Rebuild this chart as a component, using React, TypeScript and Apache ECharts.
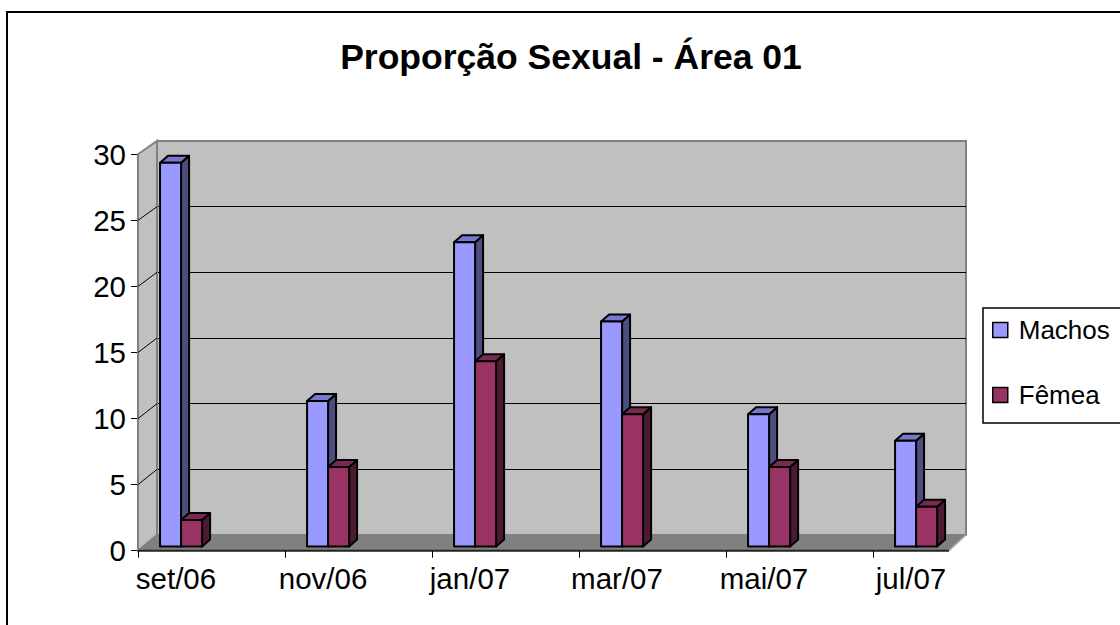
import React, { useEffect, useRef } from "react";
import * as echarts from "echarts";

const TITLE = "Proporção Sexual - Área 01";
const categories = ["set/06", "nov/06", "jan/07", "mar/07", "mai/07", "jul/07"];
const seriesNames = ["Machos", "Fêmeas"];
// the legend box clips the wrapped "s" of "Fêmeas" in the original
const legendLabels = ["Machos", "Fêmea"];
const machos = [29, 11, 23, 17, 10, 8];
const femeas = [2, 6, 14, 10, 6, 3];
const yMin = 0;
const yMax = 30;
const yStep = 5;

const FONT = "'Liberation Sans', Arial, sans-serif";

// layout (pixels)
const FRONT_LEFT = 138;
const FRONT_BOTTOM = 550.7;
const FRONT_TOP = 154.3;
const FRONT_RIGHT = 949;
const BACK_LEFT = 157;
const BACK_RIGHT = 966;
const BACK_BOTTOM = 535;
const BACK_TOP = 141;
const BAND = 147;
const BAR_BOTTOM = 546.5;
const BAR_TOP = 149.5;

const COLORS = {
  machos: { front: "#9999FF", top: "#7777CC", side: "#4D4D80" },
  femeas: { front: "#993366", top: "#7A2952", side: "#4D1A33" },
};

function makeRenderItem(offset: number, col: { front: string; top: string; side: string }) {
  return (params: any, api: any) => {
    const i = api.value(0);
    const v = api.value(1);
    const base = api.coord([i, 0]);
    const top = api.coord([i, v]);
    const bw = api.size([1, 0])[0];
    const w = 0.143 * bw;
    const x0 = base[0] + offset * bw;
    const dx = 8;
    const dy = -7;
    const yt = top[1];
    const yb = base[1];
    const stroke = { stroke: "#000", lineWidth: 2, lineJoin: "round" };
    return {
      type: "group",
      children: [
        {
          type: "polygon",
          shape: { points: [[x0 + w, yt], [x0 + w + dx, yt + dy], [x0 + w + dx, yb + dy], [x0 + w, yb]] },
          style: { fill: col.side, ...stroke },
        },
        {
          type: "polygon",
          shape: { points: [[x0, yt], [x0 + w, yt], [x0 + w + dx, yt + dy], [x0 + dx, yt + dy]] },
          style: { fill: col.top, ...stroke },
        },
        {
          type: "rect",
          shape: { x: x0, y: yt, width: w, height: yb - yt },
          style: { fill: col.front, ...stroke },
        },
      ],
    };
  };
}

export default function App() {
  const ref = useRef<HTMLDivElement>(null);
  useEffect(() => {
    if (!ref.current) return;
    const chart = echarts.init(ref.current, undefined, { renderer: "svg" });

    const frontY = (v: number) => FRONT_BOTTOM - ((v - yMin) / (yMax - yMin)) * (FRONT_BOTTOM - FRONT_TOP);
    const backY = (v: number) => BACK_BOTTOM - ((v - yMin) / (yMax - yMin)) * (BACK_BOTTOM - BACK_TOP);
    const connectors: any[] = [];
    for (let v = yMin + yStep; v < yMax; v += yStep) {
      connectors.push({
        type: "line",
        z: 1,
        shape: { x1: FRONT_LEFT, y1: frontY(v), x2: BACK_LEFT, y2: backY(v) },
        style: { stroke: "#000", lineWidth: 1 },
      });
    }

    const option: any = {
      animation: false,
      backgroundColor: "#fff",
      title: {
        text: TITLE,
        left: 571,
        top: 39,
        textAlign: "center",
        padding: 0,
        textStyle: { fontFamily: FONT, fontSize: 35.5, fontWeight: "bold", color: "#000" },
      },
      legend: {
        data: seriesNames,
        orient: "vertical",
        left: 992,
        top: 316,
        padding: 0,
        itemGap: 37,
        itemWidth: 15,
        itemHeight: 15,
        icon: "rect",
        itemStyle: { borderColor: "#000", borderWidth: 1.5 },
        formatter: (name: string) => legendLabels[seriesNames.indexOf(name)] ?? name,
        textStyle: {
          fontFamily: FONT,
          fontSize: 26,
          lineHeight: 28,
          color: "#000",
          padding: [0, 0, 0, 6],
        },
      },
      grid: [
        // bar plane
        { left: FRONT_LEFT, top: BAR_TOP, width: BAND * categories.length, height: BAR_BOTTOM - BAR_TOP, containLabel: false },
        // front plane (axes)
        { left: FRONT_LEFT, top: FRONT_TOP, width: BAND * categories.length, height: FRONT_BOTTOM - FRONT_TOP, containLabel: false },
        // back wall
        {
          left: BACK_LEFT,
          top: BACK_TOP,
          width: BACK_RIGHT - BACK_LEFT,
          height: BACK_BOTTOM - BACK_TOP,
          show: true,
          backgroundColor: "#C0C0C0",
          borderColor: "#808080",
          borderWidth: 2,
          z: 0,
        },
      ],
      xAxis: [
        { type: "category", gridIndex: 0, data: categories, show: false },
        {
          type: "category",
          gridIndex: 1,
          data: categories,
          axisLine: { show: false },
          axisTick: { show: false },
          axisLabel: {
            fontFamily: FONT,
            fontSize: 29.5,
            color: "#000",
            margin: 13,
            padding: [0, 71, 0, 0],
          },
        },
        { type: "value", gridIndex: 2, show: false, min: 0, max: 1 },
      ],
      yAxis: [
        { type: "value", gridIndex: 0, min: yMin, max: yMax, interval: yStep, show: false },
        {
          type: "value",
          gridIndex: 1,
          min: yMin,
          max: yMax,
          interval: yStep,
          axisLine: { show: true, lineStyle: { color: "#808080", width: 2 } },
          axisTick: { show: true, length: 7, lineStyle: { color: "#000", width: 1 } },
          axisLabel: { fontFamily: FONT, fontSize: 29.5, color: "#000", margin: 12 },
          splitLine: { show: false },
        },
        {
          type: "value",
          gridIndex: 2,
          min: yMin,
          max: yMax,
          interval: yStep,
          axisLine: { show: false },
          axisTick: { show: false },
          axisLabel: { show: false },
          splitLine: {
            show: true,
            lineStyle: {
              color: ["#808080", "#000", "#000", "#000", "#000", "#000", "#808080"],
              width: 1,
            },
          },
        },
      ],
      graphic: [
        {
          type: "rect",
          z: -1,
          shape: { x: 7, y: 12, width: 1130, height: 640 },
          style: { fill: "none", stroke: "#000", lineWidth: 2 },
        },
        {
          type: "polygon",
          z: 1,
          shape: { points: [[FRONT_LEFT, FRONT_TOP], [BACK_LEFT, BACK_TOP], [BACK_LEFT, BACK_BOTTOM], [FRONT_LEFT, FRONT_BOTTOM]] },
          style: { fill: "#C0C0C0", stroke: "#808080", lineWidth: 2 },
        },
        ...connectors,
        {
          type: "polygon",
          z: 1,
          shape: { points: [[FRONT_LEFT, FRONT_BOTTOM], [BACK_LEFT, BACK_BOTTOM], [BACK_RIGHT, BACK_BOTTOM], [FRONT_RIGHT, FRONT_BOTTOM]] },
          style: { fill: "#808080", stroke: "none" },
        },
        {
          type: "line",
          z: 1,
          shape: { x1: FRONT_RIGHT, y1: FRONT_BOTTOM, x2: BACK_RIGHT, y2: BACK_BOTTOM },
          style: { stroke: "#B0B0B0", lineWidth: 1.5 },
        },
        {
          type: "line",
          z: 1,
          shape: { x1: FRONT_LEFT, y1: FRONT_BOTTOM, x2: FRONT_RIGHT, y2: FRONT_BOTTOM },
          style: { stroke: "#222", lineWidth: 2 },
        },
        {
          type: "rect",
          z: 1,
          shape: { x: 983, y: 308, width: 150, height: 115 },
          style: { fill: "#fff", stroke: "#000", lineWidth: 1.5 },
        },
      ],
      series: [
        {
          name: "ticks",
          type: "custom",
          xAxisIndex: 1,
          yAxisIndex: 1,
          z: 3,
          silent: true,
          data: categories.map((_, i) => [i, yMin]),
          renderItem: (params: any, api: any) => {
            const c = api.coord([api.value(0), api.value(1)]);
            const bw = api.size([1, 0])[0];
            const x = Math.round(c[0] - bw / 2) + 0.5;
            return {
              type: "line",
              shape: { x1: x, y1: c[1], x2: x, y2: c[1] + 7 },
              style: { stroke: "#000", lineWidth: 1 },
            };
          },
        },
        {
          name: seriesNames[0],
          type: "custom",
          xAxisIndex: 0,
          yAxisIndex: 0,
          z: 3,
          itemStyle: { color: COLORS.machos.front },
          data: machos.map((v, i) => [i, v]),
          renderItem: makeRenderItem(-0.35, COLORS.machos),
        },
        {
          name: seriesNames[1],
          type: "custom",
          xAxisIndex: 0,
          yAxisIndex: 0,
          z: 3,
          itemStyle: { color: COLORS.femeas.front },
          data: femeas.map((v, i) => [i, v]),
          renderItem: makeRenderItem(-0.207, COLORS.femeas),
        },
      ],
    };
    chart.setOption(option);
    return () => chart.dispose();
  }, []);

  return (
    <div
      ref={ref}
      style={{ position: "fixed", left: 0, top: 0, width: 1120, height: 625, background: "#fff" }}
    />
  );
}
